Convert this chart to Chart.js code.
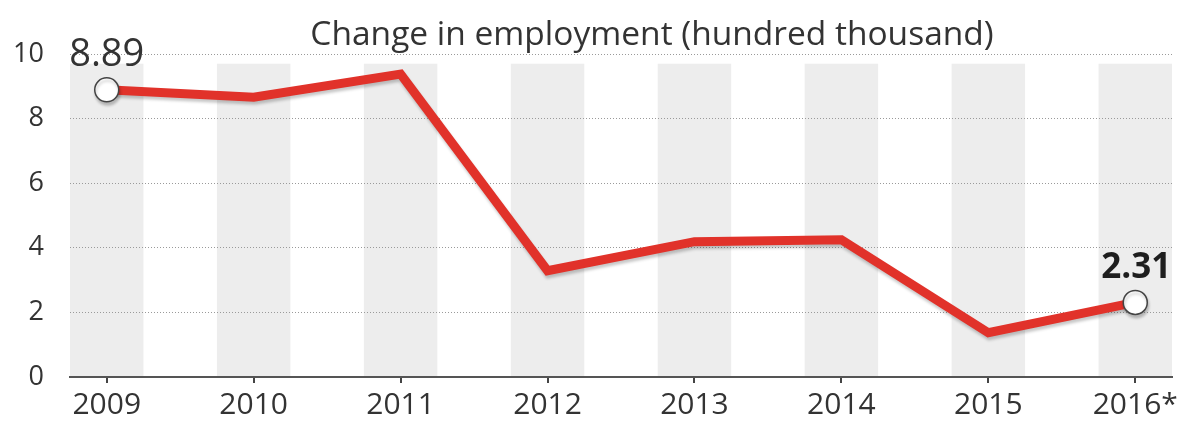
<!DOCTYPE html>
<html>
<head>
<meta charset="utf-8">
<script src="https://cdn.jsdelivr.net/npm/chart.js@4/dist/chart.umd.min.js"></script>
<style>
  html, body { margin: 0; padding: 0; background: #fff; }
  #wrap { width: 1177px; height: 421px; position: relative; }
</style>
</head>
<body>
<div id="wrap"><canvas id="jobs"></canvas></div>
<script>
// values
const years = ["2009", "2010", "2011", "2012", "2013", "2014", "2015", "2016*"];
const employmentChange = [8.89, 8.66, 9.38, 3.29, 4.19, 4.25, 1.37, 2.31];
const yTicks = [0, 2, 4, 6, 8, 10];
const titleText = "Change in employment (hundred thousand)";

const FONT = "'Open Sans', 'Noto Sans', sans-serif";
const TEXT = "#333";

// grey column behind every year, drawn under the grid
const bandPlugin = {
  id: "bands",
  beforeDraw(chart) {
    const { ctx, scales: { x, y } } = chart;
    ctx.save();
    ctx.fillStyle = "#ededed";
    years.forEach((_, i) => {
      const l = x.getPixelForValue(i - 0.25);
      const r = x.getPixelForValue(i + 0.25);
      const top = y.getPixelForValue(9.7);
      const bottom = y.getPixelForValue(0);
      ctx.fillRect(l, top, r - l, bottom - top);
    });
    ctx.restore();
  },
};

// soft shadow under the red line
const shadowPlugin = {
  id: "lineShadow",
  beforeDatasetDraw(chart) {
    const ctx = chart.ctx;
    ctx.save();
    ctx.shadowColor = "rgba(0,0,0,0.22)";
    ctx.shadowBlur = 3;
    ctx.shadowOffsetX = 1;
    ctx.shadowOffsetY = 3;
  },
  afterDatasetDraw(chart) {
    chart.ctx.restore();
  },
};

// title and the two value labels
const textPlugin = {
  id: "texts",
  afterDraw(chart) {
    const { ctx } = chart;
    const pts = chart.getDatasetMeta(0).data;
    const last = employmentChange.length - 1;
    ctx.save();
    ctx.fillStyle = TEXT;
    ctx.textAlign = "center";
    ctx.textBaseline = "alphabetic";

    ctx.font = "33.5px " + FONT;
    ctx.fillText(titleText, 652, 45);

    ctx.font = "38px " + FONT;
    ctx.fillText(employmentChange[0].toFixed(2), pts[0].x, pts[0].y - 24);

    ctx.fillStyle = "#1e1e1e";
    ctx.font = "bold 35px " + FONT;
    ctx.fillText(employmentChange[last].toFixed(2), pts[last].x + 1, pts[last].y - 24);
    ctx.restore();
  },
};

const ctx = document.getElementById("jobs").getContext("2d");

new Chart(ctx, {
  type: "line",
  data: {
    datasets: [
      {
        label: "Change in employment",
        data: employmentChange.map((v, i) => ({ x: i, y: v })),
        borderColor: "#e1322a",
        borderWidth: 9,
        borderJoinStyle: "miter",
        tension: 0,
        pointRadius: employmentChange.map((_, i) => (i === 0 || i === employmentChange.length - 1 ? 12 : 0)),
        pointBackgroundColor: "#fff",
        pointBorderColor: "#444",
        pointBorderWidth: 1.5,
      },
    ],
  },
  options: {
    responsive: true,
    maintainAspectRatio: false,
    animation: false,
    layout: { autoPadding: false, padding: { top: 54, right: 5, bottom: 0, left: 0 } },
    plugins: {
      legend: { display: false },
      tooltip: { enabled: false },
      title: { display: false },
    },
    scales: {
      x: {
        type: "linear",
        min: -0.25,
        max: years.length - 0.75,
        afterFit(scale) {
          scale.height = 44;
          scale.paddingLeft = 0;
          scale.paddingRight = 0;
        },
        grid: {
          drawOnChartArea: false,
          drawTicks: true,
          tickLength: 6,
          color: "#444",
          lineWidth: 2,
        },
        border: { display: true, color: "#555", width: 2 },
        ticks: {
          stepSize: 1,
          includeBounds: false,
          autoSkip: false,
          maxRotation: 0,
          padding: 7,
          color: TEXT,
          font: { family: FONT, size: 30, lineHeight: 1 },
          callback: (v) => (Number.isInteger(v) ? years[v] : ""),
        },
      },
      y: {
        min: yTicks[0],
        max: yTicks[yTicks.length - 1],
        afterFit(scale) {
          scale.width = 70;
        },
        afterBuildTicks(scale) {
          scale.ticks = yTicks.map((v) => ({ value: v }));
        },
        grid: {
          drawTicks: false,
          color: "#9a9a9a",
          lineWidth: 1,
        },
        border: { display: false, dash: [1, 2] },
        ticks: {
          padding: 26,
          color: TEXT,
          font: { family: FONT, size: 27 },
        },
      },
    },
  },
  plugins: [bandPlugin, shadowPlugin, textPlugin],
});
</script>
</body>
</html>
